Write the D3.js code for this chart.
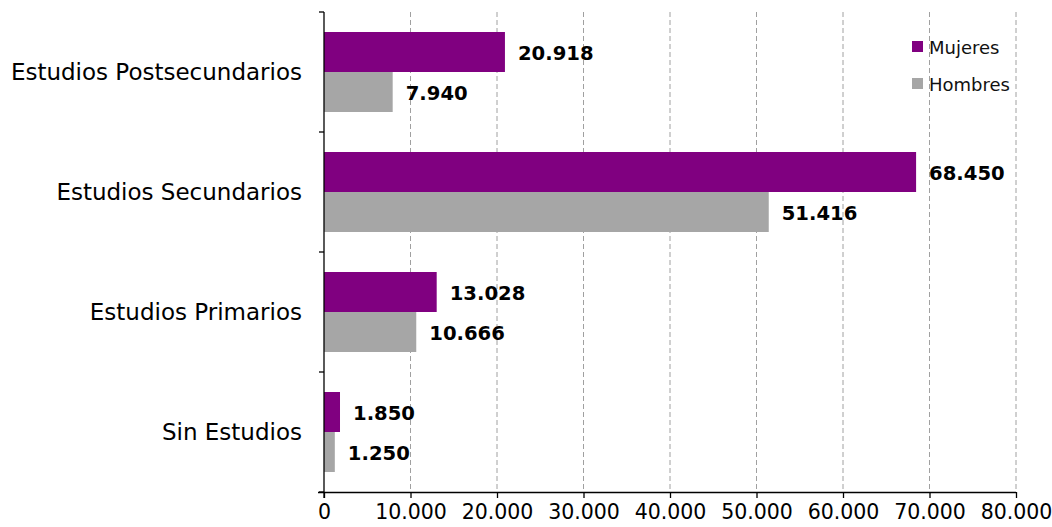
<!DOCTYPE html>
<html><head><meta charset="utf-8">
<script src="https://cdn.jsdelivr.net/npm/d3@7"></script>
<style>body{margin:0;background:#fff}svg{display:block}</style>
</head><body>
<svg id="c" width="1052" height="527"></svg>
<script>
const categories = ["Estudios Postsecundarios","Estudios Secundarios","Estudios Primarios","Sin Estudios"];
const seriesNames = ["Mujeres","Hombres"];
const mujeres = [20918, 68450, 13028, 1850];
const hombres = [7940, 51416, 10666, 1250];
const xTicks = [0,10000,20000,30000,40000,50000,60000,70000,80000];
const colors = ["#800080","#A6A6A6"];

(function(){
const svg = d3.select("#c");
const font = "DejaVu Sans, Verdana, sans-serif";
const mLeft = 324, mRight = 1016, mTop = 12, mBottom = 492;
const x = d3.scaleLinear().domain([0,80000]).range([mLeft,mRight]);
const y = d3.scaleBand().domain(categories).range([mTop,mBottom]).padding(0);
const ys = d3.scaleBand().domain(seriesNames).range([0,y.bandwidth()]).paddingInner(0).paddingOuter(0.5);
const fmt = v => d3.format(",")(v).replace(/,/g,".");

svg.append("g").selectAll("line").data(xTicks.slice(1)).join("line")
  .attr("x1",d=>x(d)).attr("x2",d=>x(d)).attr("y1",mTop).attr("y2",mBottom)
  .attr("stroke","#A0A0A0").attr("stroke-width",1).attr("stroke-dasharray","5,3");

const data = categories.map((c,i)=>({cat:c, vals:[mujeres[i],hombres[i]]}));
const g = svg.append("g");
data.forEach(d=>{
  d.vals.forEach((v,j)=>{
    const yy = y(d.cat)+ys(seriesNames[j]);
    g.append("rect").attr("x",x(0)).attr("y",yy).attr("width",x(v)-x(0)).attr("height",ys.bandwidth()).attr("fill",colors[j]);
    g.append("text").attr("x",x(v)+13).attr("y",yy+ys.bandwidth()/2+1.5).attr("dy","0.35em")
      .attr("font-family",font).attr("font-weight","bold").attr("font-size",19.6).attr("fill","#000").text(fmt(v));
  });
});

const xa = svg.append("g").attr("transform",`translate(0,${mBottom})`)
  .call(d3.axisBottom(x).tickValues(xTicks).tickSize(6).tickPadding(6).tickFormat(fmt));
xa.select(".domain").attr("d",`M${mLeft-6},0.5H${mRight}`).attr("stroke","#000").attr("stroke-width",1.3);
xa.selectAll(".tick line").attr("stroke","#000").attr("stroke-width",1.3);
xa.selectAll("text").attr("font-family",font).attr("font-size",20.5).attr("fill","#000");

const ya = svg.append("g");
ya.append("line").attr("x1",mLeft).attr("x2",mLeft).attr("y1",mTop).attr("y2",mBottom+6).attr("stroke","#000").attr("stroke-width",1.3);
const bounds = categories.map(c=>y(c)).concat([mBottom]);
ya.selectAll("line.t").data(bounds).join("line").attr("class","t")
  .attr("x1",mLeft-5).attr("x2",mLeft).attr("y1",d=>d).attr("y2",d=>d).attr("stroke","#000").attr("stroke-width",1.3);
ya.selectAll("text").data(categories).join("text")
  .attr("x",302).attr("y",c=>y(c)+y.bandwidth()/2).attr("dy","0.35em").attr("text-anchor","end")
  .attr("font-family",font).attr("font-size",23).attr("fill","#000").text(c=>c);

const lg = svg.append("g");
seriesNames.forEach((s,i)=>{
  const yy = 41 + i*37;
  lg.append("rect").attr("x",912).attr("y",yy).attr("width",11).attr("height",11).attr("fill",colors[i]);
  lg.append("text").attr("x",929).attr("y",yy+12.5).attr("font-family",font).attr("font-size",18).attr("fill","#111").text(s);
});
})();
</script>
</body></html>
